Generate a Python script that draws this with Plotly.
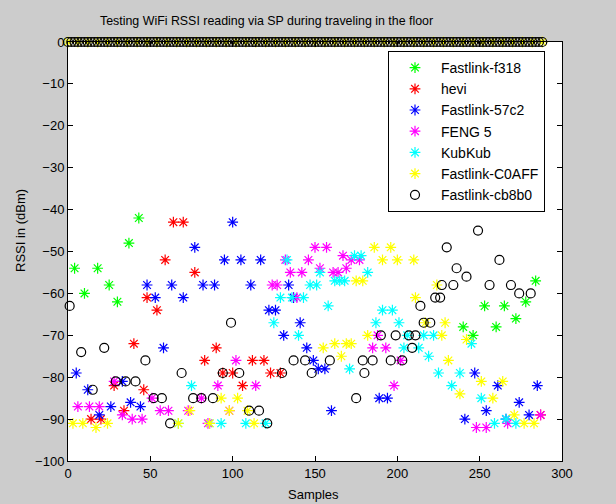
import plotly.graph_objects as go

# ---------------- data (samples, RSSI dBm) ----------------
f318_x = [4, 10, 18, 25, 30, 37, 43, 240, 246, 253, 260, 265, 272, 278, 284]
f318_y = [-54, -60, -54, -58, -62, -48, -42, -68, -70, -63, -68, -63, -66, -62, -57]

hevi_x = [14, 20, 28, 34, 40, 46, 48, 54, 59, 64, 70, 77, 83, 90, 94, 100, 106, 112, 119, 123, 129, 287]
hevi_y = [-90, -90, -82, -88, -72, -83, -61, -64, -52, -43, -43, -55, -76, -73, -79, -79, -82, -76, -76, -79, -79, -89]

c57_x = [5, 12, 19, 26, 33, 38, 44, 48, 53, 58, 63, 70, 77, 82, 89, 95, 100, 105, 111, 117, 122, 126,
         131, 134, 137, 141, 145, 149, 152, 156, 160, 189, 194, 241, 247, 254, 261, 266, 274, 280, 285]
c57_y = [-79, -83, -89, -87, -81, -86, -87, -58, -61, -73, -58, -61, -49, -58, -58, -52, -43, -52, -58, -52, -64, -64,
         -70, -58, -61, -67, -73, -76, -78, -78, -88, -85, -85, -90, -79, -88, -82, -90, -86, -89, -82]

feng_x = [6, 13, 19, 28, 33, 39, 45, 51, 56, 61, 73, 81, 85, 91, 98, 102, 114, 124, 127, 132, 135, 139, 142,
          146, 150, 153, 157, 161, 164, 167, 169, 172, 177, 185, 188, 193, 198, 202, 248, 254, 267, 287]
feng_y = [-87, -87, -87, -81, -89, -90, -90, -85, -88, -88, -88, -85, -91, -82, -88, -76, -82, -58, -58, -52, -55, -61, -55,
          -52, -49, -54, -49, -55, -55, -51, -54, -52, -52, -73, -70, -73, -82, -76, -92, -92, -91, -89]

kub_x = [67, 75, 86, 93, 108, 120, 125, 129, 133, 136, 140, 143, 147, 151, 153, 158, 162, 165, 168, 171, 174,
         178, 182, 187, 191, 197, 201, 204, 206, 213, 216, 219, 222, 225, 233, 238, 245, 251, 259, 266, 272]
kub_y = [-91, -82, -91, -91, -91, -91, -67, -61, -52, -61, -70, -61, -58, -58, -55, -63, -57, -57, -57, -78, -51,
         -51, -55, -67, -64, -64, -67, -73, -70, -73, -70, -75, -70, -79, -82, -79, -72, -85, -91, -90, -91]

c0aff_x = [3, 9, 17, 24, 67, 74, 86, 93, 98, 103, 109, 113, 155, 162, 166, 169, 172, 175, 179, 182, 186, 191,
           196, 200, 210, 211, 217, 224, 227, 229, 231, 238, 242, 251, 258, 264, 271, 277, 283]
c0aff_y = [-91, -91, -92, -91, -91, -88, -91, -85, -88, -85, -88, -91, -73, -72, -75, -72, -72, -57, -57, -70, -49, -52,
           -49, -52, -52, -61, -67, -58, -70, -67, -76, -84, -71, -81, -85, -81, -89, -91, -91]
# samples where C0AFF read 0 dBm (no reading)
c0aff_zero_x = [0, 6, 12, 18, 24, 30, 36, 42, 48, 54, 60, 66, 72, 78, 84, 90, 96, 102, 108, 114, 120, 126,
                132, 138, 144, 150, 156, 162, 168, 174, 180, 186, 192, 198, 204, 210, 216, 222, 228, 234, 240,
                246, 252, 258, 264, 270, 276, 282, 288]

cb8_x = [1, 8, 15, 22, 29, 35, 41, 47, 52, 57, 62, 69, 76, 81, 88, 94, 99, 104, 110, 116, 121, 130, 137, 144,
         148, 159, 175, 179, 180, 185, 190, 196, 199, 203, 207, 209, 211, 214, 216, 220, 223, 226, 227, 230,
         234, 236, 242, 249, 256, 262, 269, 274, 281]
cb8_y = [-63, -74, -83, -73, -81, -81, -81, -76, -85, -85, -91, -79, -85, -85, -85, -79, -67, -79, -88, -88, -91, -79, -76, -76,
         -79, -76, -85, -76, -79, -76, -70, -76, -70, -76, -70, -73, -70, -63, -67, -67, -61, -61, -58, -49,
         -58, -54, -56, -45, -58, -52, -58, -60, -60]
# samples where cb8b0 read 0 dBm (no reading)
cb8_zero_x = [0, 2, 4, 6, 8, 10, 12, 14, 16, 18, 20, 22, 24, 26, 28, 30, 32, 34, 36, 38, 40, 42, 44, 46, 48,
              50, 52, 54, 56, 58, 60, 62, 64, 66, 68, 70, 72, 74, 76, 78, 80, 82, 84, 86, 88, 90, 92, 94, 96,
              98, 100, 102, 104, 106, 108, 110, 112, 114, 116, 118, 120, 122, 124, 126, 128, 130, 132, 134,
              136, 138, 140, 142, 144, 146, 148, 150, 152, 154, 156, 158, 160, 162, 164, 166, 168, 170, 172,
              174, 176, 178, 180, 182, 184, 186, 188, 190, 192, 194, 196, 198, 200, 202, 204, 206, 208, 210,
              212, 214, 216, 218, 220, 222, 224, 226, 228, 230, 232, 234, 236, 238, 240, 242, 244, 246, 248,
              250, 252, 254, 256, 258, 260, 262, 264, 266, 268, 270, 272, 274, 276, 278, 280, 282, 284, 286, 288]

x_ticks = [0, 50, 100, 150, 200, 250, 300]
y_ticks = [0, -10, -20, -30, -40, -50, -60, -70, -80, -90, -100]

FONT = "Liberation Sans, Arial, sans-serif"

fig = go.Figure()


def star(name, xs, ys, color, show=True):
    fig.add_trace(go.Scatter(
        x=xs, y=ys, mode="markers", name=name, showlegend=show, legendgroup=name,
        cliponaxis=False,
        marker=dict(symbol="asterisk-open", size=9, color=color,
                    line=dict(color=color, width=1.2))))


star("Fastlink-f318", f318_x, f318_y, "#00ff00")
star("hevi", hevi_x, hevi_y, "#ff0000")
star("Fastlink-57c2", c57_x, c57_y, "#0000ff")
star("FENG 5", feng_x, feng_y, "#ff00ff")
star("KubKub", kub_x, kub_y, "#00ffff")
star("Fastlink-C0AFF", c0aff_x + c0aff_zero_x, c0aff_y + [0] * len(c0aff_zero_x), "#ffff00")

fig.add_trace(go.Scatter(
    x=cb8_x + cb8_zero_x, y=cb8_y + [0] * len(cb8_zero_x), mode="markers", name="Fastlink-cb8b0",
    cliponaxis=False,
    marker=dict(symbol="circle-open", size=9, color="black", line=dict(color="black", width=1.2))))

L, R, T, B = 68, 54, 42, 43
W, H = 616, 504
pw, ph = W - L - R, H - T - B

fig.update_layout(
    width=W, height=H,
    margin=dict(l=L, r=R, t=T, b=B, pad=0),
    paper_bgcolor="#cccccc", plot_bgcolor="white",
    font=dict(family=FONT, size=12, color="black"),
    showlegend=True,
    legend=dict(x=(388 - L) / pw, xanchor="left", y=(H - B - 51) / ph, yanchor="top",
                bgcolor="white", bordercolor="black", borderwidth=1,
                font=dict(family=FONT, size=14, color="black"),
                itemwidth=42, tracegroupgap=0),
    xaxis=dict(range=[0, 300], tickvals=x_ticks, ticks="inside", ticklen=5, tickcolor="black",
               showline=True, linecolor="black", linewidth=1, mirror="ticks",
               showgrid=False, zeroline=False, tickfont=dict(size=13)),
    yaxis=dict(range=[-100, 0], tickvals=y_ticks, ticks="inside", ticklen=5, tickcolor="black",
               showline=True, linecolor="black", linewidth=1, mirror="ticks",
               showgrid=False, zeroline=False, tickfont=dict(size=13)),
    annotations=[
        dict(text="Testing WiFi RSSI reading via SP during traveling in the floor",
             xref="paper", yref="paper", x=(266 - L) / pw, y=(H - B - 21) / ph,
             xanchor="center", yanchor="middle", showarrow=False, font=dict(size=12.4)),
        dict(text="Samples", xref="paper", yref="paper", x=(313 - L) / pw, y=(H - B - 494) / ph,
             xanchor="center", yanchor="middle", showarrow=False, font=dict(size=13)),
        dict(text="RSSI in (dBm)", xref="paper", yref="paper", x=(20 - L) / pw, y=(H - B - 231) / ph,
             xanchor="center", yanchor="middle", showarrow=False, textangle=-90, font=dict(size=13)),
    ],
)

fig.write_html("out.html", config={"displayModeBar": False},
               post_script="document.body.style.margin='0';document.body.style.background='#cccccc';")
